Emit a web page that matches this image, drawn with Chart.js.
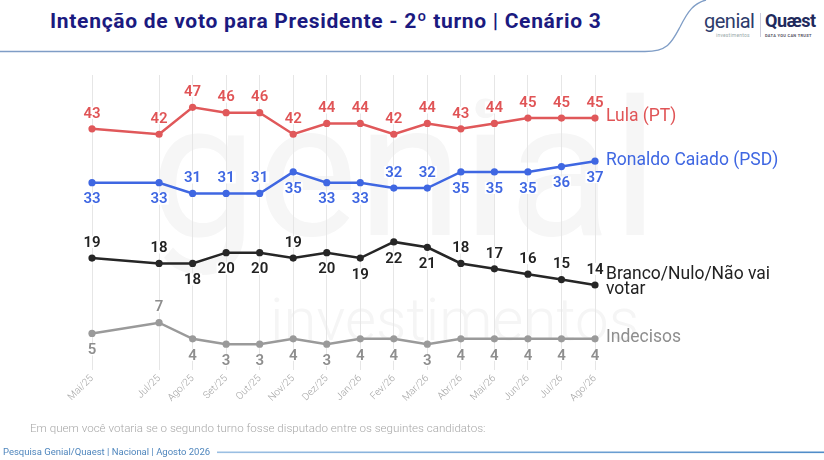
<!DOCTYPE html>
<html lang="pt-BR">
<head>
    <meta charset="UTF-8">
    <title>Intenção de voto - 2º turno | Cenário 3</title>
    <script src="https://cdn.jsdelivr.net/npm/chart.js"></script>
    <style>
        html, body { margin: 0; padding: 0; background: #fff; }
        .page { position: relative; width: 824px; height: 460px; overflow: hidden; font-family: Roboto, sans-serif; }
        .title { position: absolute; left: 50px; top: 9px; font-size: 21px; font-weight: 700; color: #1b1a80;
                 white-space: nowrap; letter-spacing: 0.7px; line-height: normal; }
        .logo { position: absolute; left: 704px; top: 9px; width: 118px; height: 30px; }
        .logo .genial { position: absolute; left: 0; top: 0; font-size: 20px; color: #2d3b6b; letter-spacing: -0.5px; }
        .logo .inv { position: absolute; left: 12px; top: 23px; font-size: 5px; color: #9aa; letter-spacing: 0.2px; }
        .logo .sep { position: absolute; left: 56px; top: 4px; width: 1px; height: 24px; background: #ccd; }
        .logo .quaest { position: absolute; left: 61px; top: 1px; font-size: 18px; font-weight: 700; color: #1f2a5c; letter-spacing: -0.5px; }
        .logo .trust { position: absolute; left: 61px; top: 24px; font-size: 4px; font-weight: 700; color: #556; letter-spacing: 0.3px; }
        .wm1 { position: absolute; left: 150px; top: 75px; font-size: 190px; color: #f6f6f6; line-height: 1; }
        .wm2 { position: absolute; left: 270px; top: 290px; font-size: 60px; font-weight: 300; color: #f5f5f5; line-height: 1; }
        .question { position: absolute; left: 30px; top: 421px; font-size: 11.6px; font-weight: 300; color: #a8a8a8; white-space: nowrap; }
        .source { position: absolute; left: 3px; top: 446px; font-size: 9.5px; color: #4f86bd; white-space: nowrap; }
        .chart-box { position: absolute; left: 0; top: 0; width: 824px; height: 460px; }
        svg.deco { position: absolute; left: 0; top: 0; }
    </style>
</head>
<body>
<div class="page">
    <div class="wm1">genial</div>
    <div class="wm2">investimentos</div>
    <svg class="deco" width="824" height="460">
        <path d="M0,51.5 H645 C668,51.5 672,42 680,27 C688,11 694,3 706,0" fill="none" stroke="#7f9dc6" stroke-width="1.3"/>
        <defs>
            <linearGradient id="fl" x1="0" x2="1">
                <stop offset="0" stop-color="#9cc0e3"/>
                <stop offset="1" stop-color="#4f8cc8"/>
            </linearGradient>
        </defs>
        <rect x="217" y="451.5" width="607" height="1.6" fill="url(#fl)"/>
    </svg>
    <div class="title">Intenção de voto para Presidente - 2º turno | Cenário 3</div>
    <div class="logo">
        <div class="genial">genial</div>
        <div class="inv">investimentos</div>
        <div class="sep"></div>
        <div class="quaest">Quæst</div>
        <div class="trust">DATA YOU CAN TRUST</div>
    </div>
    <div class="chart-box"><canvas id="votoChart"></canvas></div>
    <div class="question">Em quem você votaria se o segundo turno fosse disputado entre os seguintes candidatos:</div>
    <div class="source">Pesquisa Genial/Quaest | Nacional | Agosto 2026</div>
</div>

<script>
    // months surveyed (Jun/25 had no survey, kept as an empty slot)
    const months = ['Mai/25', '', 'Jul/25', 'Ago/25', 'Set/25', 'Out/25', 'Nov/25', 'Dez/25',
                    'Jan/26', 'Fev/26', 'Mar/26', 'Abr/26', 'Mai/26', 'Jun/26', 'Jul/26', 'Ago/26'];

    const lula      = [43, null, 42, 47, 46, 46, 42, 44, 44, 42, 44, 43, 44, 45, 45, 45];
    const caiado    = [33, null, 33, 31, 31, 31, 35, 33, 33, 32, 32, 35, 35, 35, 36, 37];
    const branco    = [19, null, 18, 18, 20, 20, 19, 20, 19, 22, 21, 18, 17, 16, 15, 14];
    const indecisos = [5,  null, 7,  4,  3,  3,  4,  3,  4,  4,  3,  4,  4,  4,  4,  4];

    // where each value label sits: 'a' above the point, 'b' below
    const lulaPos      = 'a-aaaaaaaaaaaaaa';
    const caiadoPos    = 'b-baaabbbaabbbbb';
    const brancoPos    = 'a-abbbabbbbaaaaa';
    const indecisosPos = 'b-abbbbbbbbbbbbb';

    const seriesNames = [['Lula (PT)'], ['Ronaldo Caiado (PSD)'], ['Branco/Nulo/Não vai', 'votar'], ['Indecisos']];

    const valueLabels = {
        id: 'valueLabels',
        afterDatasetsDraw(chart) {
            const ctx = chart.ctx;
            ctx.save();
            ctx.font = '600 15px Roboto';
            ctx.textAlign = 'center';
            ctx.textBaseline = 'middle';
            chart.data.datasets.forEach((ds, di) => {
                const meta = chart.getDatasetMeta(di);
                meta.data.forEach((pt, i) => {
                    const v = ds.data[i];
                    if (v === null) return;
                    const up = ds.labelPos[i] === 'a';
                    const y = pt.y + (up ? -16 : 16);
                    const txt = String(v);
                    const w = ctx.measureText(txt).width;
                    ctx.fillStyle = '#fff';
                    ctx.fillRect(pt.x - w / 2 - 1, y - 6, w + 2, 12);
                    ctx.fillStyle = ds.labelColor;
                    ctx.fillText(txt, pt.x, y + 1);
                });

                // series name at the end of the line
                const last = meta.data[meta.data.length - 1];
                const lines = seriesNames[di];
                ctx.save();
                ctx.font = '17.5px Roboto';
                ctx.textAlign = 'left';
                ctx.fillStyle = ds.labelColor;
                if (lines.length === 1) {
                    ctx.textBaseline = 'middle';
                    ctx.fillText(lines[0], last.x + 11, last.y - 1);
                } else {
                    ctx.textBaseline = 'alphabetic';
                    ctx.fillText(lines[0], last.x + 11, last.y - 6);
                    ctx.fillText(lines[1], last.x + 11, last.y + 9);
                }
                ctx.restore();
            });
            ctx.restore();
        }
    };

    function series(data, color, labelColor, pos) {
        return {
            data: data,
            borderColor: color,
            backgroundColor: color,
            pointBackgroundColor: color,
            pointBorderWidth: 0,
            pointRadius: 3.6,
            borderWidth: 2.5,
            tension: 0,
            spanGaps: true,
            labelColor: labelColor,
            labelPos: pos
        };
    }

    new Chart(document.getElementById('votoChart'), {
        type: 'line',
        data: {
            labels: months,
            datasets: [
                series(lula, '#e0585a', '#e05456', lulaPos),
                series(caiado, '#3f67e2', '#3f67e2', caiadoPos),
                series(branco, '#262626', '#222222', brancoPos),
                series(indecisos, '#9a9a9a', '#8e8e8e', indecisosPos)
            ]
        },
        options: {
            responsive: true,
            maintainAspectRatio: false,
            animation: false,
            layout: { padding: { left: 92, right: 229, top: 75, bottom: 53 } },
            plugins: { legend: { display: false }, tooltip: { enabled: false } },
            scales: {
                x: {
                    offset: false,
                    border: { display: false },
                    grid: {
                        drawTicks: false,
                        color: c => (months[c.index] === '' ? 'rgba(0,0,0,0)' : '#e6e6e6'),
                        lineWidth: 1
                    },
                    ticks: {
                        autoSkip: false,
                        minRotation: 45,
                        maxRotation: 45,
                        padding: 3,
                        color: '#a3a3a3',
                        font: { family: 'Roboto', size: 10, weight: '300' }
                    }
                },
                y: {
                    display: false,
                    min: -1.7,
                    max: 53
                }
            }
        },
        plugins: [valueLabels]
    });
</script>
</body>
</html>
